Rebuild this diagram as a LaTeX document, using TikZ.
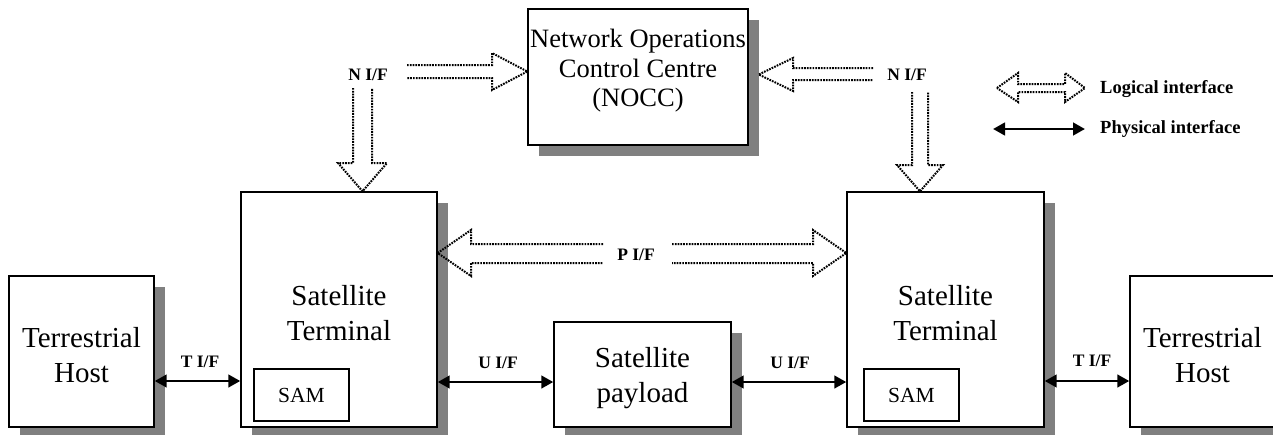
\documentclass[tikz,border=0pt]{standalone}
\usepackage{fontspec}
\setmainfont{Liberation Serif}
\usetikzlibrary{arrows.meta,shadows,calc}
\definecolor{shadowgray}{HTML}{808080}
\begin{document}
\begin{tikzpicture}[x=1pt,y=-1pt,
  box/.style={draw, line width=1.4pt, fill=white, rectangle, inner sep=0pt,
    drop shadow={shadow xshift=11pt, shadow yshift=-11pt, fill=shadowgray, opacity=1}},
  sambox/.style={draw, line width=1.1pt, fill=white, rectangle, inner sep=0pt,
    minimum width=95pt, minimum height=52pt, font=\fontsize{21.5}{24}\selectfont},
  bigtext/.style={font=\fontsize{29}{35}\selectfont, align=center, inner sep=0pt},
  nocctext/.style={font=\fontsize{26.5}{29.5}\selectfont, align=center, inner sep=0pt},
  lbl/.style={font=\fontsize{17.5}{20}\selectfont\bfseries, inner sep=0pt},
  lgtext/.style={font=\fontsize{18.5}{20}\selectfont\bfseries, inner sep=0pt, anchor=west},
  phys/.style={line width=2.8pt, {Triangle[length=12pt,width=12.5pt]}-{Triangle[length=12pt,width=12.5pt]}},
  logical/.style={line width=2pt, dash pattern=on 1.7pt off 1.1pt, line join=miter}
]
\useasboundingbox (0,0) rectangle (1273,434);
\clip (0,0) rectangle (1273,434);

% boxes
\node[box, minimum width=220pt, minimum height=136pt] (nocc) at (638,77) {};
\node[box, minimum width=145pt, minimum height=151pt] (hostL) at (81.5,351.5) {};
\node[box, minimum width=196pt, minimum height=235pt] (stL) at (339,309.5) {};
\node[box, minimum width=177pt, minimum height=105pt] (pay) at (642.5,374.5) {};
\node[box, minimum width=197pt, minimum height=235pt] (stR) at (945.5,309.5) {};
\node[box, minimum width=145pt, minimum height=151pt] (hostR) at (1202.5,351.5) {};
\node[sambox] (samL) at (301.5,395) {SAM};
\node[sambox] (samR) at (911.5,395) {SAM};

% box texts
\node[nocctext] (tnocc) at (638,71) {Network Operations\\Control Centre\\(NOCC)};
\node[bigtext] (thostL) at (81.5,355) {Terrestrial\\Host};
\node[bigtext] (tstL) at (339,313) {Satellite\\Terminal};
\node[bigtext] (tpay) at (642.5,378) {Satellite\\payload};
\node[bigtext] (tstR) at (945.5,313) {Satellite\\Terminal};
\node[bigtext] (thostR) at (1202.5,355) {Terrestrial\\Host};

% physical interfaces
\coordinate (yT) at (0,381);
\coordinate (yU) at (0,382);
\draw[phys] (hostL.east |- yT) -- (stL.west |- yT);
\draw[phys] (stL.east |- yU) -- (pay.west |- yU);
\draw[phys] (pay.east |- yU) -- (stR.west |- yU);
\draw[phys] (stR.east |- yT) -- (hostR.west |- yT);
\node[lbl] (lT1) at (200,362) {T I/F};
\node[lbl] (lU1) at (498,363) {U I/F};
\node[lbl] (lU2) at (790,363) {U I/F};
\node[lbl] (lT2) at (1092,361) {T I/F};

% logical interfaces
\node[lbl] (lN1) at (368,75) {N I/F};
\node[lbl] (lN2) at (907,75) {N I/F};
\node[lbl] (lP) at (636,255) {P I/F};

% N I/F left: horizontal to NOCC
\draw[logical] (407,65) -- (492,65) -- (492,53) -- (nocc.west |- 0,71.5) -- (492,90) -- (492,78) -- (407,78);
% N I/F left: vertical to left terminal
\draw[logical] (353,88) -- (353,163) -- (338,163) -- (362.5,0 |- stL.north) -- (387,163) -- (372,163) -- (372,88);
% N I/F right: horizontal to NOCC
\draw[logical] (873,68) -- (793,68) -- (793,58) -- ($(nocc.east |- 0,74.5)+(10,0)$) -- (793,91) -- (793,80) -- (873,80);
% N I/F right: vertical to right terminal
\draw[logical] (912,92) -- (912,165) -- (897,165) -- (920,0 |- stR.north) -- (943,165) -- (928,165) -- (928,92);
% P I/F
\draw[logical] (603,244) -- (471,244) -- (471,230) -- (stL.east |- 0,253) -- (471,276) -- (471,263) -- (603,263);
\draw[logical] (672,244) -- (813,244) -- (813,230) -- (stR.west |- 0,253) -- (813,276) -- (813,263) -- (672,263);

% legend
\coordinate (lgA) at (997,88);
\coordinate (lgB) at (1085,88);
\draw[logical] (lgA) -- (1018,73) -- (1018,84) -- (1065,84) -- (1065,73) -- (lgB) -- (1065,102) -- (1065,92) -- (1018,92) -- (1018,102) -- cycle;
\node[lgtext] (lgL) at (1100,89) {Logical interface};
\coordinate (lgC) at (993,129);
\coordinate (lgD) at (1085,129);
\draw[phys] (lgC) -- (lgD);
\node[lgtext] (lgP) at (1100,129) {Physical interface};
\end{tikzpicture}
\end{document}
